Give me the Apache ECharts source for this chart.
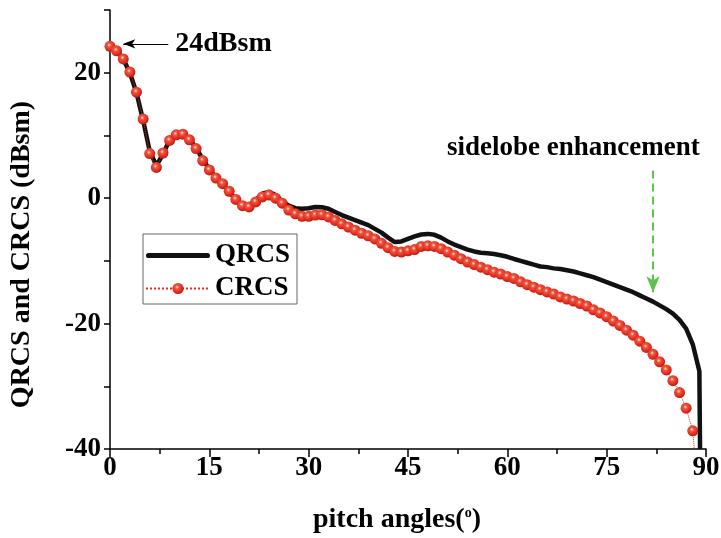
<!DOCTYPE html>
<html>
<head>
<meta charset="utf-8">
<script src="https://cdn.jsdelivr.net/npm/echarts@6/dist/echarts.min.js"></script>
<style>
html, body { margin: 0; padding: 0; background: #fff; }
#container { width: 721px; height: 538px; }
</style>
</head>
<body>
<div id="container"></div>
<script>
// 俯仰角 (度)
var angles = [0, 1, 2, 3, 4, 5, 6, 7, 8, 9, 10, 11, 12, 13, 14, 15, 16, 17, 18, 19,
    20, 21, 22, 23, 24, 25, 26, 27, 28, 29, 30, 31, 32, 33, 34, 35, 36, 37, 38, 39,
    40, 41, 42, 43, 44, 45, 46, 47, 48, 49, 50, 51, 52, 53, 54, 55, 56, 57, 58, 59,
    60, 61, 62, 63, 64, 65, 66, 67, 68, 69, 70, 71, 72, 73, 74, 75, 76, 77, 78, 79,
    80, 81, 82, 83, 84, 85, 86, 87, 88, 89];
// QRCS (dBsm), 最后在 89.1 度处直落
var qrcs = [24.2, 23.5, 22.2, 20.0, 16.8, 12.4, 7.5, 5.2, 7.0, 9.3,
    10.2, 10.3, 9.4, 8.0, 6.2, 4.6, 3.3, 2.3, 1.0, -0.2,
    -1.1, -1.2, -0.3, 0.7, 1.0, 0.5, -0.5, -1.2, -1.6, -1.7,
    -1.6, -1.4, -1.45, -1.7, -2.2, -2.7, -3.1, -3.5, -3.9, -4.3,
    -4.9, -5.5, -6.3, -7.0, -6.9, -6.5, -6.1, -5.8, -5.7, -5.85,
    -6.3, -6.9, -7.4, -7.8, -8.2, -8.5, -8.7, -8.8, -8.9, -9.1,
    -9.35, -9.7, -10.0, -10.3, -10.6, -10.9, -11.0, -11.2, -11.3, -11.5,
    -11.7, -12.0, -12.3, -12.6, -13.0, -13.4, -13.8, -14.2, -14.6, -15.0,
    -15.5, -16.0, -16.5, -17.1, -17.7, -18.4, -19.4, -20.8, -23.3, -27.6];
var qrcsEndAngle = 89.1;
var qrcsEndValue = -40;
// CRCS (dBsm)
var crcs = [24.2, 23.5, 22.2, 20.1, 16.9, 12.6, 7.1, 4.9, 7.2, 9.2,
    10.1, 10.2, 9.3, 7.9, 6.0, 4.5, 3.2, 2.3, 1.1, -0.2,
    -1.2, -1.4, -0.6, 0.2, 0.5, 0.0, -0.8, -1.9, -2.5, -2.9,
    -2.9, -2.7, -2.65, -3.0, -3.55, -4.1, -4.6, -5.1, -5.6, -6.0,
    -6.5, -7.2, -7.9, -8.5, -8.6, -8.4, -8.2, -7.7, -7.6, -7.7,
    -8.05, -8.6, -9.1, -9.65, -10.2, -10.6, -11.0, -11.4, -11.8, -12.1,
    -12.5, -12.8, -13.35, -13.8, -14.2, -14.6, -14.95, -15.3, -15.75, -16.1,
    -16.4, -16.8, -17.2, -17.8, -18.3, -18.9, -19.6, -20.3, -21.05, -21.85,
    -22.8, -23.8, -24.9, -26.1, -27.4, -29.1, -31.0, -33.5, -37.1, -50];

var serif = '"Liberation Serif", "Times New Roman", serif';

function pairs(xs, ys) {
    var out = [];
    for (var i = 0; i < ys.length; i++) {
        out.push([xs[i], ys[i]]);
    }
    return out;
}

var qrcsData = pairs(angles, qrcs);
qrcsData.push([qrcsEndAngle, qrcsEndValue]);
var crcsData = pairs(angles, crcs);

var dom = document.getElementById('container');
var myChart = echarts.init(dom);
var option = {
    animation: false,
    grid: { left: 110, right: 15, top: 10, bottom: 89, containLabel: false, outerBoundsMode: 'none' },
    legend: {
        data: [
            { name: 'QRCS', icon: 'path://M2,0 H58 A2,2 0 0 1 58,5 H2 A2,2 0 0 1 2,0 Z' },
            { name: 'CRCS' }
        ],
        orient: 'vertical',
        left: 143,
        top: 234,
        itemWidth: 64,
        itemHeight: 14,
        itemGap: 6,
        padding: [8, 7, 2, 2],
        borderColor: '#666',
        borderWidth: 1,
        textStyle: { fontFamily: serif, fontWeight: 'bold', fontSize: 27, color: '#000' }
    },
    xAxis: {
        type: 'value',
        min: 0,
        max: 90,
        interval: 15,
        name: '{t|pitch angles(}{s|o}{t|)}',
        nameLocation: 'middle',
        nameGap: 57,
        nameTextStyle: {
            padding: [0, 22, 0, 0],
            rich: {
                t: { fontFamily: serif, fontWeight: 'bold', fontSize: 28, color: '#000' },
                s: { fontFamily: serif, fontWeight: 'bold', fontSize: 14, color: '#000', verticalAlign: 'top' }
            }
        },
        axisLine: { onZero: false, lineStyle: { color: '#000', width: 1.5 } },
        axisTick: { length: 8, lineStyle: { color: '#000', width: 1.5 } },
        minorTick: { show: true, splitNumber: 2, length: 5, lineStyle: { color: '#000', width: 1.5 } },
        splitLine: { show: false },
        axisLabel: { margin: 6, fontFamily: serif, fontWeight: 'bold', fontSize: 27, color: '#000' }
    },
    yAxis: {
        type: 'value',
        min: -40,
        max: 30,
        interval: 10,
        name: 'QRCS and CRCS (dBsm)',
        nameLocation: 'middle',
        nameGap: 74,
        nameTextStyle: { fontFamily: serif, fontWeight: 'bold', fontSize: 28, color: '#000', padding: [0, 50, 0, 0] },
        axisLine: { show: true, onZero: false, lineStyle: { color: '#000', width: 1.5 } },
        axisTick: { length: 6, lineStyle: { color: '#000', width: 1.5 } },
        splitLine: { show: false },
        axisLabel: {
            margin: 9,
            fontFamily: serif, fontWeight: 'bold', fontSize: 27, color: '#000',
            formatter: function (v) { return v % 20 === 0 ? String(v) : ''; }
        }
    },
    graphic: [
        {
            type: 'text',
            left: 447,
            top: 135,
            style: { text: 'sidelobe enhancement', font: 'bold 27px ' + serif, fill: '#000' }
        }
    ],
    series: [
        {
            name: 'QRCS',
            type: 'line',
            data: qrcsData,
            showSymbol: false,
            symbol: 'none',
            lineStyle: { color: '#111', width: 4.5 },
            itemStyle: { color: '#111' },
            markLine: {
                silent: true,
                symbol: ['none', 'arrow'],
                symbolSize: [7, 12],
                lineStyle: { color: '#000', width: 1.2, type: 'solid' },
                label: {
                    show: true,
                    position: 'start',
                    distance: 7,
                    formatter: '24dBsm',
                    fontFamily: serif, fontWeight: 'bold', fontSize: 28, color: '#000'
                },
                data: [[{ coord: [8.8, 24.6] }, { coord: [2.0, 24.6] }]]
            }
        },
        {
            name: 'CRCS',
            type: 'line',
            data: crcsData,
            symbol: 'circle',
            symbolSize: 11,
            lineStyle: { color: '#e32a1c', width: 1, type: 'dotted' },
            itemStyle: {
                color: {
                    type: 'radial', x: 0.42, y: 0.38, r: 0.62,
                    colorStops: [
                        { offset: 0, color: '#ffe4de' },
                        { offset: 0.28, color: '#f0553f' },
                        { offset: 0.75, color: '#e02a1c' },
                        { offset: 1, color: '#b51a10' }
                    ]
                }
            },
            markLine: {
                silent: true,
                symbol: ['none', 'arrow'],
                symbolSize: [10, 16],
                lineStyle: { color: '#5cc44c', width: 2, type: [8, 5] },
                label: { show: false },
                data: [[{ coord: [82, 4.4] }, { coord: [82, -15.0] }]]
            }
        }
    ]
};
myChart.setOption(option, true);
</script>
</body>
</html>
